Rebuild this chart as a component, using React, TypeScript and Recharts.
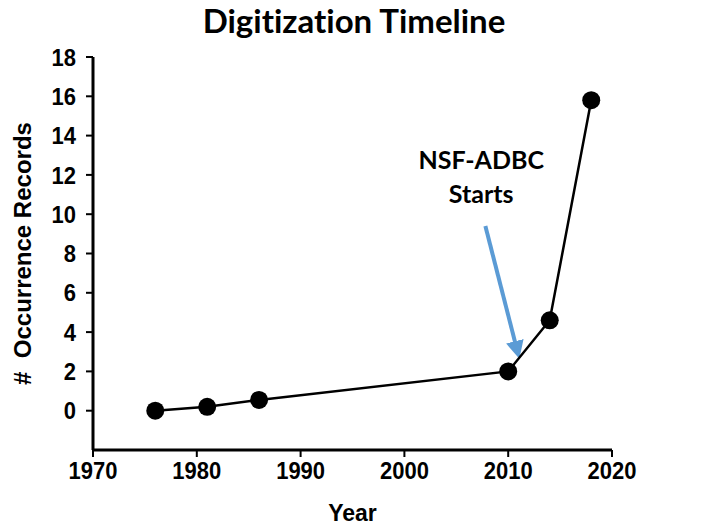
import {
  LineChart,
  Line,
  XAxis,
  YAxis,
  ReferenceLine,
  ReferenceDot,
} from 'recharts'

const years = [1976, 1981, 1986, 2010, 2014, 2018]
const records = [0, 0.2, 0.55, 2.0, 4.6, 15.8]
const xTicks = [1970, 1980, 1990, 2000, 2010, 2020]
const yTicks = [0, 2, 4, 6, 8, 10, 12, 14, 16, 18]

// annotation in data coordinates
const arrowFrom = { x: 2007.8, y: 9.4 }
const arrowTo = { x: 2010.9, y: 3.0 }
const noteAt = { x: 2007.4, y: 12 }
const noteLines = ['NSF-ADBC', 'Starts']

const data = years.map((year, i) => ({ year, value: records[i] }))

const axisFont = "'Liberation Sans', Arial, sans-serif"
const noteFont = "Lato, 'Open Sans', sans-serif"

// reference text is slightly stretched vertically
function XTick({ x, y, payload }: any) {
  return (
    <text
      transform={`translate(${x}, ${y}) scale(1, 1.1)`}
      textAnchor="middle"
      dy="0.71em"
      fontFamily={axisFont}
      fontWeight="bold"
      fontSize={22}
      fill="#000"
    >
      {payload.value}
    </text>
  )
}

function YTick({ x, y, payload }: any) {
  return (
    <text
      transform={`translate(${x}, ${y}) scale(1, 1.1)`}
      textAnchor="end"
      dy="0.355em"
      fontFamily={axisFont}
      fontWeight="bold"
      fontSize={22}
      fill="#000"
    >
      {payload.value}
    </text>
  )
}

function YTitle({ viewBox }: any) {
  const cx = viewBox.x - 8
  const cy = viewBox.y + viewBox.height / 2
  return (
    <text
      x={cx}
      y={cy}
      transform={`rotate(-90, ${cx}, ${cy})`}
      textAnchor="middle"
      dominantBaseline="central"
      fontFamily={axisFont}
      fontWeight="bold"
      fontSize={24}
      fill="#000"
      style={{ whiteSpace: 'pre' }}
    >
      {'#  Occurrence Records'}
    </text>
  )
}

function Note({ viewBox }: any) {
  const x = viewBox.x + (viewBox.width ?? 0) / 2
  const y = viewBox.y + (viewBox.height ?? 0) / 2
  return (
    <text x={x} y={y} textAnchor="middle" fontFamily={noteFont} fontWeight="bold" fontSize={25} fill="#000">
      {noteLines.map((line, i) => (
        <tspan key={line} x={x} dy={i === 0 ? -6 : 34}>
          {line}
        </tspan>
      ))}
    </text>
  )
}

export default function App() {
  return (
    <div style={{ position: 'absolute', left: 0, top: 0, width: 708, height: 525, background: '#fff' }}>
      <div
        style={{
          position: 'absolute',
          left: 0,
          width: 708,
          top: 0,
          height: 42,
          lineHeight: '40px',
          textAlign: 'center',
          fontFamily: noteFont,
          fontWeight: 'bold',
          fontSize: 33,
          fontVariantLigatures: 'none',
          color: '#000',
        }}
      >
        Digitization Timeline
      </div>
      <LineChart width={708} height={525} data={data} margin={{ top: 57, right: 96, bottom: 13, left: 30 }}>
        <defs>
          <marker id="arrowHead" viewBox="0 0 10 10" refX="6" refY="5" markerWidth="4.5" markerHeight="4.5" orient="auto">
            <path d="M0,0 L10,5 L0,10 z" fill="#5B9BD5" />
          </marker>
        </defs>
        <XAxis
          dataKey="year"
          type="number"
          domain={[1970, 2020]}
          ticks={xTicks}
          height={62}
          axisLine={{ stroke: '#000', strokeWidth: 3 }}
          tickLine={{ stroke: '#000', strokeWidth: 2 }}
          tickSize={7}
          tickMargin={5}
          tick={<XTick />}
          label={{
            value: 'Year',
            position: 'insideBottom',
            offset: -9,
            fill: '#000',
            fontSize: 23,
            fontWeight: 'bold',
            fontFamily: axisFont,
          }}
        />
        <YAxis
          type="number"
          domain={[-2, 18]}
          ticks={yTicks}
          width={63}
          interval={0}
          axisLine={{ stroke: '#000', strokeWidth: 3 }}
          tickLine={{ stroke: '#000', strokeWidth: 2 }}
          tickSize={7}
          tickMargin={10}
          tick={<YTick />}
          label={<YTitle />}
        />
        <ReferenceLine
          segment={[arrowFrom, arrowTo]}
          stroke="#5B9BD5"
          strokeWidth={4}
          markerEnd="url(#arrowHead)"
          ifOverflow="visible"
        />
        <ReferenceDot
          x={noteAt.x}
          y={noteAt.y}
          r={0}
          fill="none"
          stroke="none"
          ifOverflow="visible"
          label={<Note />}
        />
        <Line
          type="linear"
          dataKey="value"
          stroke="#000"
          strokeWidth={2.5}
          dot={{ r: 9, fill: '#000', stroke: '#000', strokeWidth: 0 }}
          activeDot={false}
          isAnimationActive={false}
        />
      </LineChart>
    </div>
  )
}
